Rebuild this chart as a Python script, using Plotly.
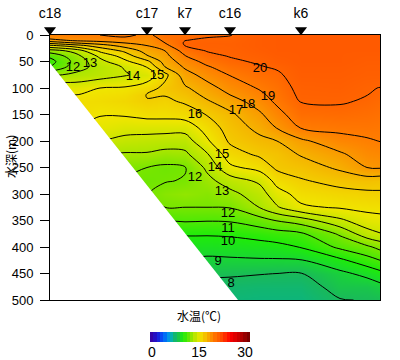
import plotly.graph_objects as go

distance = [0, 25, 50, 75, 97, 115, 135, 157, 180, 210, 227, 251, 290, 317, 330]
depth = [0, 5, 10, 15, 20, 30, 40, 50, 60, 75, 100, 113, 125, 150, 175, 200, 225, 250, 275, 300, 325, 350, 375, 400, 425, 450, 475, 500]

t_00 = [18.8,18.4,17.6,16.3,14.8,12.5,11.2,10.6,11,12.8,15,15.3,15.5,15.3,14.6,13.8,13,12.2,12,12.3,12,11,10,9.5,8.9,8.2,7.6,7.2]
t_25 = [19,18.6,18.2,17,15.6,13.3,12.6,12.3,12.5,13.2,14.6,15,15.3,15.5,15,14,13,12.2,12,12.3,12,11,10,9.5,8.9,8.2,7.6,7.2]
t_50 = [19,18.8,18.4,17.5,16.5,15.2,14.2,13.7,13.4,13.5,15,15.25,15.4,15.05,14.7,14,13,12.2,12,12.3,12,11,10,9.5,8.9,8.2,7.6,7.2]
t_75 = [19.3,18.9,18.4,18,17.4,16.2,15.4,14.8,14.1,13.9,15.1,15.4,15.6,15.1,14.4,13.7,12.9,12.2,11.9,12.2,12,11,10,9.5,8.9,8.2,7.6,7.2]
t_97 = [18.7,18.5,18.3,18.2,18,17.4,16.9,15.75,15.05,14.4,15.5,16.05,15.95,15.3,14.4,13.6,12.9,12,11.8,11.95,12,11,10,9.5,8.9,8.2,7.6,7.2]
t_115 = [19.6,19.4,19.2,19,18.7,18,17.7,17.4,17,15.7,16.3,16.05,15.8,15.3,14.4,13.5,12.7,11.8,11.95,12.3,12,11,10,9.5,8.9,8.2,7.6,7.2]
t_135 = [19.6,19.8,19.98,20.1,20.02,19.4,18.95,18.5,18.15,17.6,16.85,16.5,16.15,15.45,14.4,13.5,12.8,11.95,12.05,12.5,12,11.1,10.1,9.5,8.9,8.2,7.6,7.2]
t_157 = [19.8,20,20.15,20.3,20.25,20.05,19.7,19.3,18.9,18.4,17.6,17.25,16.9,16.05,15.4,14.85,13.9,13.2,12.7,12.3,12,11.05,10.1,9.45,8.8,8.2,7.6,7.2]
t_180 = [19.95,20.1,20.2,20.3,20.3,20.2,20.05,19.8,19.5,19.05,18.4,18,17.55,16.8,16.45,16.15,15.55,14.8,13.5,12.7,12.05,11.1,10.15,9.5,8.85,8.15,7.6,7.3]
t_210 = [20.7,20.7,20.7,20.7,20.7,20.6,20.4,20.15,19.93,19.6,19.1,18.8,18.5,17.85,17.3,16.75,16.2,15.35,14.2,13.55,13.05,11.6,10.4,9.6,8.9,8.05,7.5,7.2]
t_227 = [20.8,20.8,20.8,20.8,20.8,20.8,20.7,20.5,20.15,19.8,19.5,19.35,19.2,18.65,18.05,17,16.45,16.2,15.35,14.6,13.9,12.05,10.6,9.7,8.9,8,7.5,7.2]
t_251 = [20.8,20.8,20.8,20.8,20.8,20.8,20.8,20.8,20.7,20.6,20.3,20.2,20.05,19.6,19.05,17.8,17.1,16.45,15.9,15.35,14.85,12.5,10.85,10.05,8.95,7.97,7.5,7.2]
t_290 = [20.8,20.8,20.8,20.8,20.8,20.8,20.8,20.8,20.7,20.6,20.4,20.25,20.1,19.7,19.25,18.65,17.85,17.2,16.35,15.65,15.1,13.8,12.15,11.2,9.8,8.75,8.4,7.95]
t_317 = [20.8,20.8,20.8,20.8,20.8,20.8,20.7,20.6,20.5,20.4,20.07,20.01,19.9,19.6,19.3,18.9,18.5,18,16.5,15.8,15.25,14.6,13.6,11.8,10.6,9.3,8.4,8.05]
t_330 = [20.8,20.8,20.8,20.8,20.8,20.8,20.7,20.6,20.5,20.4,19.98,19.87,19.75,19.5,19.25,19.02,18.6,18.1,16.4,15.85,15.3,14.7,13.95,12.3,11,9.7,8.7,8.1]
columns = [t_00, t_25, t_50, t_75, t_97, t_115, t_135, t_157, t_180, t_210, t_227, t_251, t_290, t_317, t_330]

station_names = ["c18", "c17", "k7", "c16", "k6"]
station_distance = [0, 97, 135, 180, 251]
seabed_distance = [0, 188, 0]
seabed_depth = [53, 500, 500]

label_text = ["12","13","14","15","16","17","18","19","20","15","14","13","12","12","11","10","9","8"]
label_distance = [23,40,83,107,145,186,198,218,210,172,165,172,145,178,178,178,168,181]
label_depth = [62,55,79,76,150,142,132,117,63,226,250,295,270,337,365,390,428,469]

colorbar_values = [v + 0.5 for v in range(30)]
colorbar_ticks = [0.6, 14.7, 28.5]
colorbar_labels = ["0", "15", "30"]
depth_ticks = [0, 50, 100, 150, 200, 250, 300, 350, 400, 450, 500]

scale = [
    [0/30, "rgb(60,0,150)"], [2/30, "rgb(30,20,210)"], [4/30, "rgb(0,90,255)"],
    [6/30, "rgb(0,170,220)"], [7/30, "rgb(10,180,130)"], [8/30, "rgb(25,185,90)"],
    [9/30, "rgb(25,215,50)"], [10/30, "rgb(30,235,10)"], [12/30, "rgb(120,230,0)"],
    [13/30, "rgb(170,230,0)"], [15/30, "rgb(240,230,0)"], [17/30, "rgb(245,180,0)"],
    [19/30, "rgb(255,125,0)"], [20/30, "rgb(255,100,0)"], [21/30, "rgb(255,88,0)"],
    [24/30, "rgb(255,0,0)"], [27/30, "rgb(190,0,0)"], [30/30, "rgb(110,0,0)"],
]

z = [[col[i] for col in columns] for i in range(len(depth))]
tick_font = dict(family="Liberation Sans Narrow, Liberation Sans", size=13, color="black")
jp_font = dict(family="Noto Sans CJK JP", size=12, color="black")

fig = go.Figure()
fig.add_trace(go.Contour(
    x=distance, y=depth, z=z, colorscale=scale, zmin=0, zmax=30, showscale=False,
    contours=dict(coloring="heatmap", start=8, end=20, size=1, showlabels=False),
    line=dict(color="black", width=1), hoverinfo="skip",
))
fig.add_trace(go.Scatter(
    x=seabed_distance, y=seabed_depth, mode="lines", fill="toself",
    fillcolor="white", line=dict(width=0, color="white"), hoverinfo="skip",
))
fig.add_trace(go.Scatter(
    x=label_distance, y=label_depth, mode="text", text=label_text,
    textposition="middle center", textfont=tick_font, hoverinfo="skip",
))
fig.add_trace(go.Scatter(
    x=station_distance, y=[30] * len(station_distance), mode="markers",
    marker=dict(symbol="triangle-down", size=10.5, color="black"), cliponaxis=False,
    xaxis="x3", yaxis="y3", hoverinfo="skip",
))
fig.add_trace(go.Scatter(
    x=station_distance, y=[14] * len(station_distance), mode="text",
    text=station_names, textposition="middle center", cliponaxis=False,
    textfont=dict(family="Liberation Sans Narrow, Liberation Sans", size=14, color="black"),
    xaxis="x3", yaxis="y3", hoverinfo="skip",
))
fig.add_trace(go.Heatmap(
    x=colorbar_values, y=[0], z=[colorbar_values], colorscale=scale, zmin=0, zmax=30,
    showscale=False, xaxis="x2", yaxis="y2", hoverinfo="skip",
))

fig.update_layout(
    width=400, height=360, showlegend=False, paper_bgcolor="white", plot_bgcolor="white",
    margin=dict(l=0, r=0, t=0, b=0),
    xaxis=dict(domain=[50/400, 380/400], range=[0, 330], showticklabels=False, ticks="",
               showgrid=False, zeroline=False, showline=True, mirror=True, automargin=False,
               linecolor="black", linewidth=1),
    yaxis=dict(domain=[1-300/360, 1-35/360], range=[500, 0], tickvals=depth_ticks,
               ticks="outside", ticklen=9, tickcolor="black", tickfont=tick_font, automargin=False,
               ticklabelstandoff=4, showgrid=False, zeroline=False, showline=True, mirror=True,
               linecolor="black", linewidth=1),
    xaxis2=dict(domain=[150/400, 250/400], range=[0, 30], tickvals=colorbar_ticks,
                ticktext=colorbar_labels, ticks="",
                tickfont=dict(family="Liberation Sans Narrow, Liberation Sans", size=14, color="black"),
                showgrid=False, zeroline=False, anchor="y2", automargin=False),
    yaxis2=dict(domain=[1-342/360, 1-332/360], showticklabels=False, ticks="", automargin=False,
                showgrid=False, zeroline=False, anchor="x2", range=[-0.5, 0.5]),
    xaxis3=dict(domain=[50/400, 380/400], range=[0, 330], visible=False, anchor="y3", automargin=False),
    yaxis3=dict(domain=[1-35/360, 1], range=[35, 0], visible=False, anchor="x3", automargin=False),
    annotations=[
        dict(text="水温(℃)", x=199/400, y=1-315/360, xref="paper", yref="paper",
             showarrow=False, font=jp_font, xanchor="center", yanchor="middle"),
        dict(text="水深(m)", x=10/400, y=1-157/360, xref="paper", yref="paper", textangle=-90,
             showarrow=False, font=jp_font, xanchor="center", yanchor="middle"),
    ],
)
fig.write_html("out.html", config={"displayModeBar": False}, post_script="document.body.style.margin='0';")
